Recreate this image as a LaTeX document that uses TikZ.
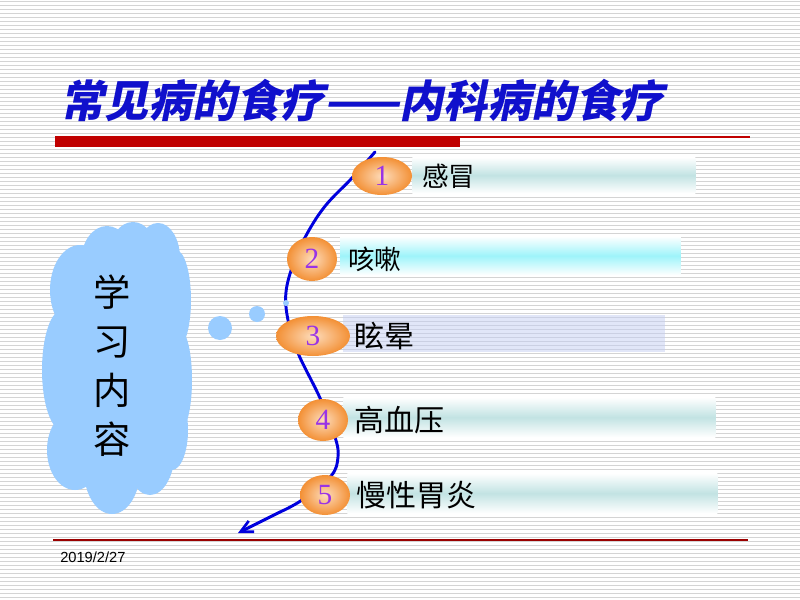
\documentclass[tikz,border=0pt]{standalone}
\usepackage{fontspec}
\setmainfont{Liberation Serif}
\newfontfamily\cjk{Noto Sans CJK SC}
\newfontfamily\cjktitle[FakeSlant=0.2]{Noto Sans CJK SC}
\newfontfamily\datefont{Liberation Sans}
\usetikzlibrary{arrows.meta,shapes.geometric}
\definecolor{titleblue}{HTML}{1010CC}
\definecolor{barred}{HTML}{C00000}
\definecolor{lineblue}{HTML}{0000DD}
\definecolor{cloudblue}{HTML}{99CCFF}
\definecolor{orangeout}{HTML}{F39035}
\definecolor{orangein}{HTML}{FDDCBC}
\definecolor{numpurple}{HTML}{9933E6}
\definecolor{tealbar}{HTML}{C2E3E3}
\definecolor{cyanbar}{HTML}{9EF4FA}
\definecolor{lavbar}{HTML}{C4CEF2}
\definecolor{stripe}{HTML}{D4D4D4}
\tikzset{
  numell/.style={ellipse, inner sep=0pt, inner color=orangein, outer color=orangeout,
    text=numpurple, font=\fontsize{22}{22}\selectfont},
  barbox/.style={rectangle, draw=none, inner sep=0pt, anchor=north west},
  tealshade/.style={shade, top color=white, bottom color=white, middle color=tealbar},
  lbl/.style={anchor=west, inner sep=0pt, text=black},
  lblsmall/.style={lbl, font=\cjk\fontsize{20}{20}\selectfont},
  lblbig/.style={lbl, font=\cjk\fontsize{22.5}{22.5}\selectfont},
  curve/.style={draw=lineblue, line width=2.2pt, line cap=round, line join=round},
  cloudpart/.style={fill=cloudblue, draw=none}
}
\begin{document}
\begin{tikzpicture}[x=0.75pt, y=-0.75pt]
\useasboundingbox (0,0) rectangle (800,600);
\fill[white] (0,0) rectangle (800,600);
% background stripes
\foreach \y in {0,4,...,596} \draw[stripe, line width=0.75pt] (0,\y+1) -- (800,\y+1);

% title
\node[anchor=west, inner sep=0pt, text=titleblue, font=\cjktitle\bfseries\fontsize{33}{33}\selectfont] (title) at (60,100) {常见病的食疗——内科病的食疗};
\fill[barred] (55,136) rectangle (460,147);
\draw[barred, line width=0.9pt] (460,137) -- (750,137);

% bottom line and date
\draw[barred!80!black, line width=0.9pt] (53,540) -- (748,540);
\node[anchor=west, inner sep=0pt, font=\datefont\fontsize{11}{11}\selectfont] (date) at (60,557) {2019/2/27};

% cloud
\fill[cloudpart] (107,262) ellipse [x radius=26, y radius=36];
\fill[cloudpart] (133,255) ellipse [x radius=24, y radius=33];
\fill[cloudpart] (158,258) ellipse [x radius=22, y radius=35];
\fill[cloudpart] (80,290) ellipse [x radius=30, y radius=45];
\fill[cloudpart] (176,300) ellipse [x radius=15, y radius=50];
\fill[cloudpart] (62,370) ellipse [x radius=20, y radius=60];
\fill[cloudpart] (180,380) ellipse [x radius=12, y radius=50];
\fill[cloudpart] (75,450) ellipse [x radius=28, y radius=40];
\fill[cloudpart] (112,470) ellipse [x radius=28, y radius=44];
\fill[cloudpart] (150,450) ellipse [x radius=25, y radius=45];
\fill[cloudpart] (172,430) ellipse [x radius=16, y radius=40];
\fill[cloudpart] (115,370) ellipse [x radius=68, y radius=112];
\fill[cloudpart] (220,328) circle [radius=12];
\fill[cloudpart] (257,314) circle [radius=8];
\node[align=center, inner sep=0pt, font=\cjk\fontsize{28}{36.75}\selectfont] (learn) at (112,366) {学\\习\\内\\容};

% bars
\node[barbox, tealshade, minimum width=212.25pt, minimum height=27pt] (b1) at (412,157) {};
\node[barbox, shade, top color=white, bottom color=white, middle color=cyanbar, minimum width=255pt, minimum height=29.25pt] (b2) at (340,236) {};
\node[barbox, fill=lavbar, fill opacity=0.5, minimum width=241.5pt, minimum height=27.75pt] (b3) at (343,315) {};
\node[barbox, tealshade, minimum width=279pt, minimum height=30pt] (b4) at (343,397) {};
\node[barbox, tealshade, minimum width=277.5pt, minimum height=30pt] (b5) at (347,473) {};

% curve
\coordinate (c0) at (375,152);
\coordinate (c1) at (352,178);
\coordinate (c2) at (326,205);
\coordinate (c3) at (308,232);
\coordinate (c4) at (294,262);
\coordinate (c5) at (286,292);
\coordinate (c6) at (288,320);
\coordinate (c7) at (298,353);
\coordinate (c8) at (320,398);
\coordinate (c9) at (335,437);
\coordinate (c10) at (338,457);
\coordinate (c11) at (331,476);
\coordinate (c12) at (302,500);
\coordinate (c13) at (280,512);
\coordinate (cend) at (238,533);
\draw[curve] plot[smooth, tension=0.6] coordinates {(c0) (c1) (c2) (c3) (c4) (c5) (c6) (c7) (c8) (c9) (c10) (c11) (c12) (c13)};
\draw[curve, -{Straight Barb[length=9pt, width=9pt, line width=2pt]}] (c13) -- (cend);
\fill[cloudpart] (286,303) circle [radius=3];

% ellipses
\node[numell, minimum width=45pt, minimum height=28.5pt] (e1) at (382,176) {1};
\node[numell, minimum width=37.5pt, minimum height=33pt] (e2) at (312,259) {2};
\node[numell, minimum width=55.5pt, minimum height=30pt] (e3) at (313,336) {3};
\node[numell, minimum width=37.5pt, minimum height=31.5pt] (e4) at (323,420) {4};
\node[numell, minimum width=37.5pt, minimum height=30pt] (e5) at (325,495) {5};

% labels
\node[lblsmall] (t1) at (422,176) {感冒};
\node[lblsmall] (t2) at (348,259) {咳嗽};
\node[lblbig] (t3) at (354,336) {眩晕};
\node[lblbig] (t4) at (354,420) {高血压};
\node[lblbig] (t5) at (356,495) {慢性胃炎};
\end{tikzpicture}
\end{document}
